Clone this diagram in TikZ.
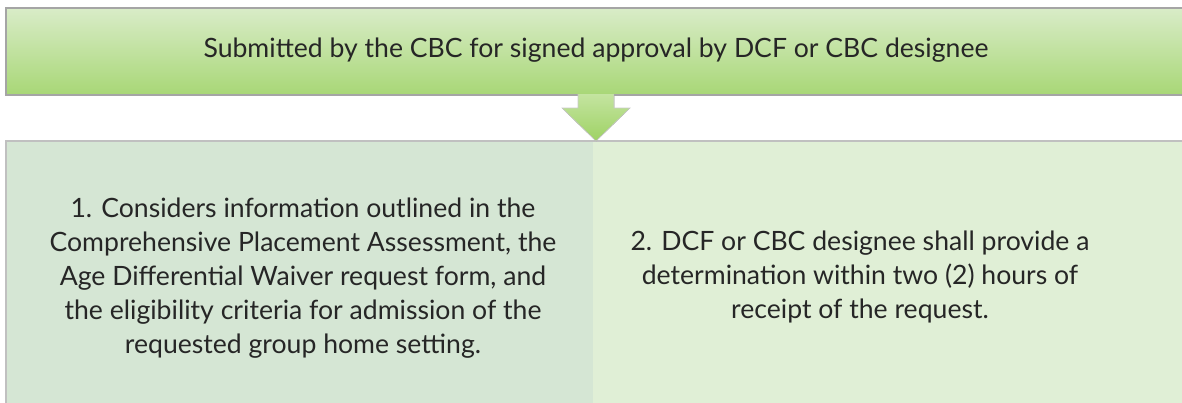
\documentclass[tikz,border=0pt]{standalone}
\usepackage{fontspec}
\setmainfont{Lato}
\usepackage{tikz}
\usetikzlibrary{positioning,calc}
\definecolor{bannertop}{RGB}{217,236,200}
\definecolor{bannerbot}{RGB}{168,215,118}
\definecolor{arrowtop}{RGB}{196,228,160}
\definecolor{arrowbot}{RGB}{158,210,100}
\definecolor{leftfill}{RGB}{213,230,212}
\definecolor{rightfill}{RGB}{224,239,214}
\definecolor{edgegray}{RGB}{165,165,165}
\definecolor{textgray}{RGB}{38,38,38}

\begin{document}
\begin{tikzpicture}[x=1pt,y=-1pt,
  panel/.style={inner sep=0pt, outer sep=0pt, anchor=north west},
  words/.style={align=center, text=textgray, inner sep=0pt, font=\fontsize{26.6}{34}\selectfont}]
\useasboundingbox (0,0) rectangle (1182,402);

% banner on top
\node[panel, draw=edgegray, line width=1.2pt, top color=bannertop, bottom color=bannerbot,
  minimum width=1180, minimum height=87] (banner) at (6,8) {};
\node[words, anchor=base] (bannertext) at (596,57) {Submitted by the CBC for signed approval by DCF or CBC designee};

% the two steps
\node[panel, fill=leftfill, minimum width=587, minimum height=275] (stepone) at (6,141) {};
\node[panel, fill=rightfill, minimum width=595, minimum height=275] (steptwo) at (stepone.north east) {};
\draw[edgegray!70, line width=1.2pt] (stepone.south west) -- (stepone.north west) -- (steptwo.north east);

\node[words] (onetext) at (303,278) {1. Considers information outlined in the\\
  Comprehensive Placement Assessment, the\\
  Age Differential Waiver request form, and\\
  the eligibility criteria for admission of the\\
  requested group home setting.};
\node[words] (twotext) at (860,277) {2. DCF or CBC designee shall provide a\\
  determination within two (2) hours of\\
  receipt of the request.};

% arrow down
\coordinate (tip) at (596,141);
\filldraw[draw=edgegray!60, line width=0.6pt, top color=arrowtop, bottom color=arrowbot]
  ($(banner.south)+(-18,-1)$) -- ($(banner.south)+(-18,13)$) -- ($(banner.south)+(-34,13)$)
  -- (tip) -- ($(banner.south)+(34,13)$) -- ($(banner.south)+(18,13)$) -- ($(banner.south)+(18,-1)$);
\end{tikzpicture}
\end{document}
